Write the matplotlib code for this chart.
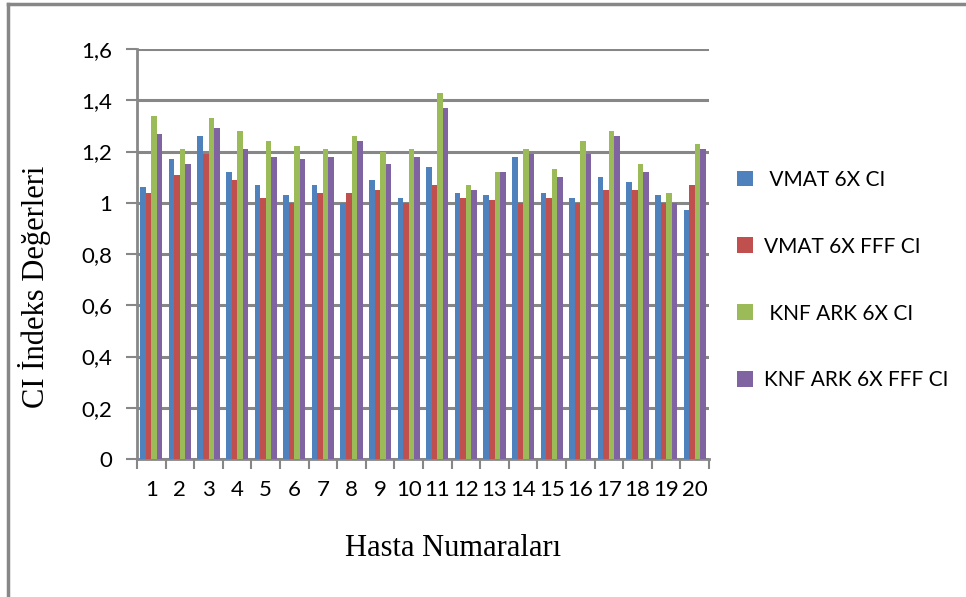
import matplotlib.pyplot as plt
import numpy as np
from matplotlib.ticker import FuncFormatter, FixedLocator
from matplotlib.patches import Patch

# values
hastalar = [str(i) for i in range(1, 21)]
vmat_6x = [1.06, 1.17, 1.26, 1.12, 1.07, 1.03, 1.07, 1.00, 1.09, 1.02,
           1.14, 1.04, 1.03, 1.18, 1.04, 1.02, 1.10, 1.08, 1.03, 0.97]
vmat_fff = [1.04, 1.11, 1.19, 1.09, 1.02, 1.00, 1.04, 1.04, 1.05, 1.00,
            1.07, 1.02, 1.01, 1.00, 1.02, 1.00, 1.05, 1.05, 1.00, 1.07]
knf_6x = [1.34, 1.21, 1.33, 1.28, 1.24, 1.22, 1.21, 1.26, 1.20, 1.21,
          1.43, 1.07, 1.12, 1.21, 1.13, 1.24, 1.28, 1.15, 1.04, 1.23]
knf_fff = [1.27, 1.15, 1.29, 1.21, 1.18, 1.17, 1.18, 1.24, 1.15, 1.18,
           1.37, 1.05, 1.12, 1.19, 1.10, 1.19, 1.26, 1.12, 1.00, 1.21]
seriler = ['VMAT 6X CI', 'VMAT 6X FFF CI', 'KNF ARK 6X CI', 'KNF ARK 6X FFF CI']
etiketler = [' VMAT 6X CI', 'VMAT 6X FFF CI', ' KNF ARK 6X CI', 'KNF ARK 6X FFF CI']
renkler = ['#4F81BD', '#C0504D', '#9BBB59', '#8064A2']
yticks = [0, 0.2, 0.4, 0.6, 0.8, 1.0, 1.2, 1.4, 1.6]

grid_c = '#878787'

fig = plt.figure(figsize=(9.66, 5.97), dpi=100)
ax = fig.add_axes([137 / 966, 1 - 459 / 597, (709 - 137) / 966, (459 - 49) / 597])

x = np.arange(len(hastalar))
w = 0.195
data = [vmat_6x, vmat_fff, knf_6x, knf_fff]
for i, (vals, c) in enumerate(zip(data, renkler)):
    ax.bar(x + (i - 1.5) * w, vals, width=w, color=c, zorder=3)

ax.set_xlim(-0.5, len(hastalar) - 0.5)
ax.set_ylim(0, 1.6)
ax.set_yticks(yticks)
ax.yaxis.set_major_formatter(FuncFormatter(
    lambda v, p: ('%g' % round(v, 1)).replace('.', ',')))
ax.yaxis.grid(True, color=grid_c, linewidth=2.2, zorder=0)

ax.set_xticks(x)
ax.set_xticklabels(hastalar)
ax.xaxis.set_minor_locator(FixedLocator(np.arange(-0.5, len(hastalar), 1.0)))
ax.tick_params(axis='x', which='major', length=0, pad=15, labelsize=16)
ax.tick_params(axis='x', which='minor', length=7, width=1.5, color=grid_c)
ax.tick_params(axis='y', length=8, width=1.5, color=grid_c, pad=10, labelsize=16)

for s in ['top', 'right']:
    ax.spines[s].set_visible(False)
for s in ['left', 'bottom']:
    ax.spines[s].set_color(grid_c)
    ax.spines[s].set_linewidth(2)

for lab in ax.get_xticklabels() + ax.get_yticklabels():
    lab.set_family(['Lato', 'DejaVu Sans'])

fig.text(453 / 966, 1 - 548 / 597, 'Hasta Numaraları', ha='center', va='center',
         family='Liberation Serif', fontsize=22)
fig.text(35 / 966, 1 - 287 / 597, 'CI İndeks Değerleri', ha='center', va='center',
         rotation=90, family='Liberation Serif', fontsize=22)

handles = [Patch(facecolor=c, edgecolor='none') for c in renkler]
fig.legend(handles, etiketler, loc='upper left', bbox_to_anchor=(718 / 966, 1 - 151 / 597),
           frameon=False, prop={'family': 'Lato', 'size': 15},
           handlelength=0.8, handleheight=0.8, labelspacing=2.25, handletextpad=0.5)

# outer frame (only top and left visible)
fig.add_artist(plt.Line2D([8 / 966, 1], [1 - 4 / 597, 1 - 4 / 597], color=grid_c, linewidth=2.5))
fig.add_artist(plt.Line2D([8 / 966, 8 / 966], [0, 1 - 4 / 597], color=grid_c, linewidth=2.5))

fig.savefig('out.png', dpi=100)
